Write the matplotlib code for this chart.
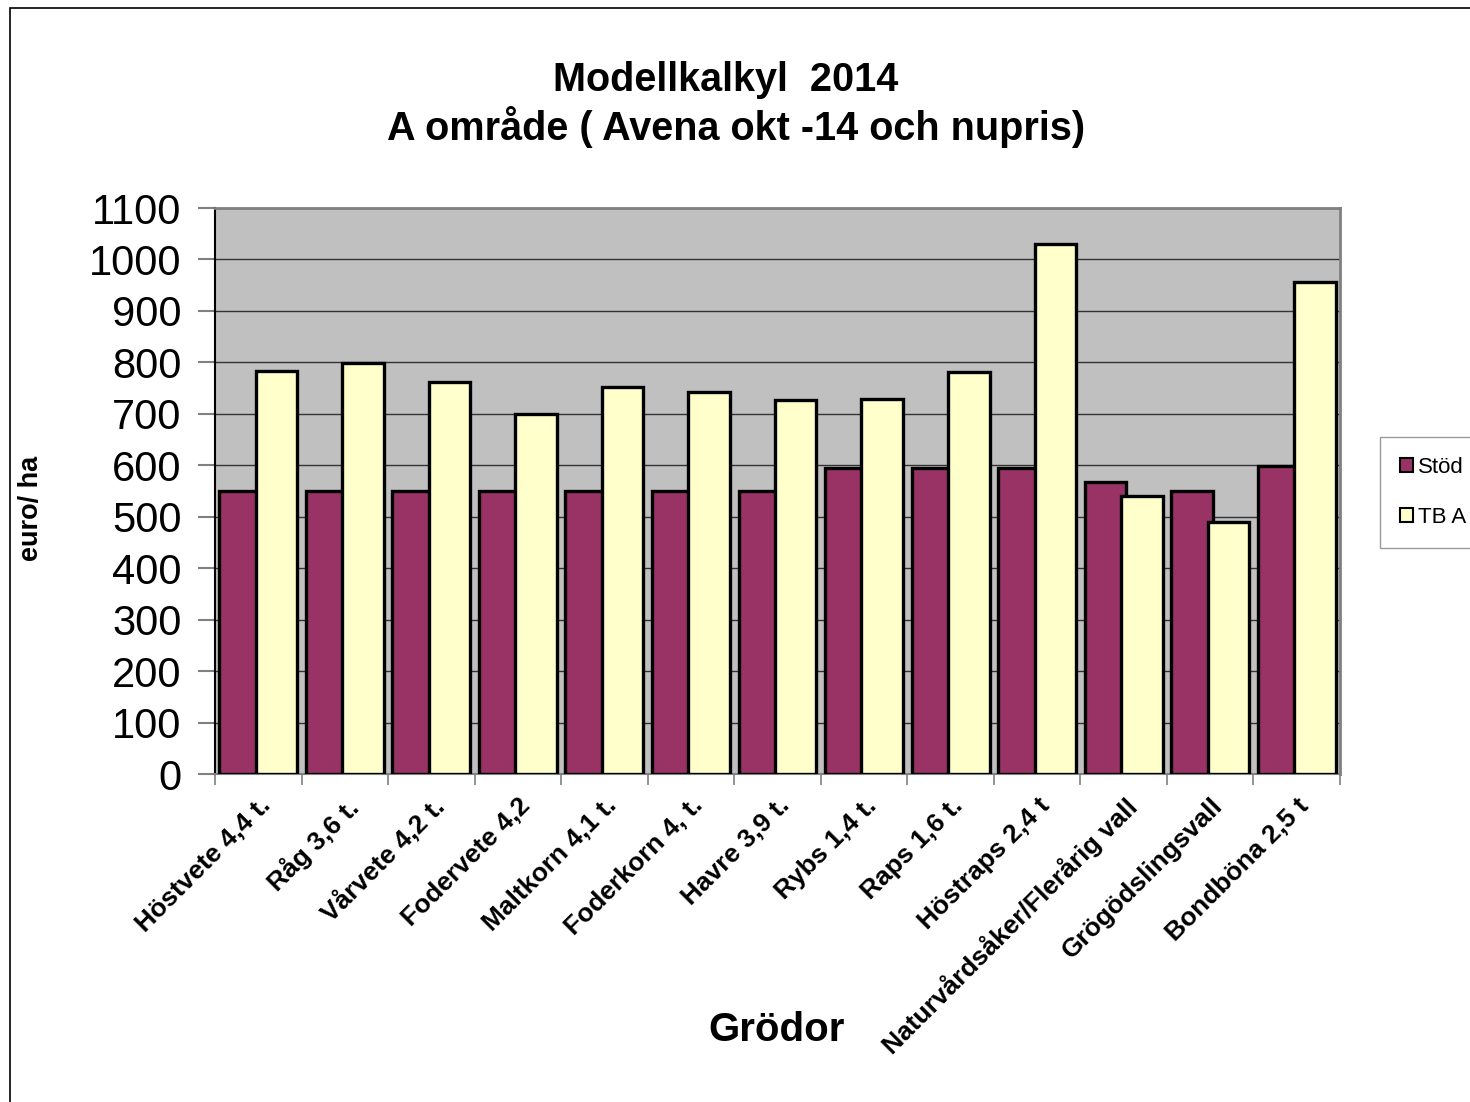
"""
Modellkalkyl 2014, A område: Stöd and TB A per gröda (euro/ha)
"""
import matplotlib.pyplot as plt
import matplotlib.patches as mpatches
import numpy as np

# ###
# data
# ###
CROPS = ['Höstvete 4,4 t.', 'Råg 3,6 t.', 'Vårvete 4,2 t.', 'Fodervete 4,2',
         'Maltkorn 4,1 t.', 'Foderkorn 4, t.', 'Havre 3,9 t.', 'Rybs 1,4 t.',
         'Raps 1,6 t.', 'Höstraps 2,4 t', 'Naturvårdsåker/Flerårig vall',
         'Grögödslingsvall', 'Bondböna 2,5 t']
STOD = [550, 550, 550, 550, 550, 550, 550, 595, 595, 595, 568, 550, 599]
TB_A = [783, 799, 762, 700, 752, 742, 727, 729, 781, 1030, 540, 490, 956]
Y_TICKS = list(range(0, 1101, 100))

# figure variables
COLOR_STOD = '#993366'
COLOR_TB = '#FFFFCC'
BG_COLOR = '#C0C0C0'
BAR_WIDTH = 0.48
BAR_OFFSET = 0.21
FONT = 'Liberation Sans'


def draw_figure(image_path):
    plt.rcParams['font.family'] = [FONT, 'DejaVu Sans']
    fig = plt.figure(figsize=(14.7, 11.02), dpi=100, facecolor='w')

    # outer chart border (cut at right/bottom as in the original)
    fig.patches.append(mpatches.Rectangle((10 / 1470, -0.05), 1.1, 1 - 8 / 1102 + 0.05,
                                          transform=fig.transFigure, fill=False,
                                          edgecolor='black', linewidth=1.2))

    ax = fig.add_axes([215 / 1470, 1 - 774 / 1102, 1125 / 1470, 566 / 1102])
    ax.set_facecolor(BG_COLOR)

    x = np.arange(len(CROPS))
    ax.bar(x - BAR_OFFSET, STOD, BAR_WIDTH, color=COLOR_STOD, edgecolor='black',
           linewidth=2.4, label='Stöd', zorder=3)
    ax.bar(x + BAR_OFFSET, TB_A, BAR_WIDTH, color=COLOR_TB, edgecolor='black',
           linewidth=2.4, label='TB A', zorder=4)

    ax.set_xlim(-0.5, len(CROPS) - 0.5)
    ax.set_ylim(0, 1100)
    ax.set_yticks(Y_TICKS)
    ax.set_yticklabels([str(v) for v in Y_TICKS], fontsize=30)
    ax.yaxis.grid(True, color='#333333', linewidth=1.0, zorder=1)

    ax.set_xticks(x)
    ax.set_xticklabels(CROPS, rotation=45, ha='right', rotation_mode='anchor',
                       fontsize=19, fontweight='bold')
    ax.set_xticks(np.arange(len(CROPS) + 1) - 0.5, minor=True)
    ax.tick_params(axis='x', which='major', length=0, pad=14)
    ax.tick_params(axis='x', which='minor', length=8, color='#808080', width=1.2)
    ax.tick_params(axis='y', length=12, color='#808080', width=1.5, pad=12)

    for side in ['top', 'right']:
        ax.spines[side].set_color('#808080')
        ax.spines[side].set_linewidth(2)
    ax.spines['left'].set_color('black')
    ax.spines['left'].set_linewidth(1.5)
    ax.spines['bottom'].set_color('#808080')
    ax.spines['bottom'].set_linewidth(1.5)

    ax.set_ylabel('euro/ ha', fontsize=19.5, fontweight='bold')
    ax.yaxis.set_label_coords(-0.152, 0.47)

    fig.text(777 / 1470, 1 - 1030 / 1102, 'Grödor', fontsize=29, fontweight='bold',
             ha='center', va='center')
    fig.text(726 / 1470, 1 - 80 / 1102, 'Modellkalkyl  2014', fontsize=28.5,
             fontweight='bold', ha='center', va='center')
    fig.text(736 / 1470, 1 - 127 / 1102, 'A område ( Avena okt -14 och nupris)',
             fontsize=28.5, fontweight='bold', ha='center', va='center')

    # legend
    leg = fig.legend(loc='upper left', bbox_to_anchor=(1380 / 1470, 1 - 437 / 1102),
                     fontsize=16, frameon=True, fancybox=False, handlelength=0.6,
                     handleheight=0.6, handletextpad=0.2, labelspacing=1.3,
                     borderpad=0.9, borderaxespad=0)
    leg.get_frame().set_edgecolor('#808080')
    leg.get_frame().set_linewidth(1.0)
    for h in leg.legend_handles:
        h.set_linewidth(1.5)

    plt.savefig(image_path, dpi=100)
    plt.close(fig)


if __name__ == '__main__':
    draw_figure('out.png')
